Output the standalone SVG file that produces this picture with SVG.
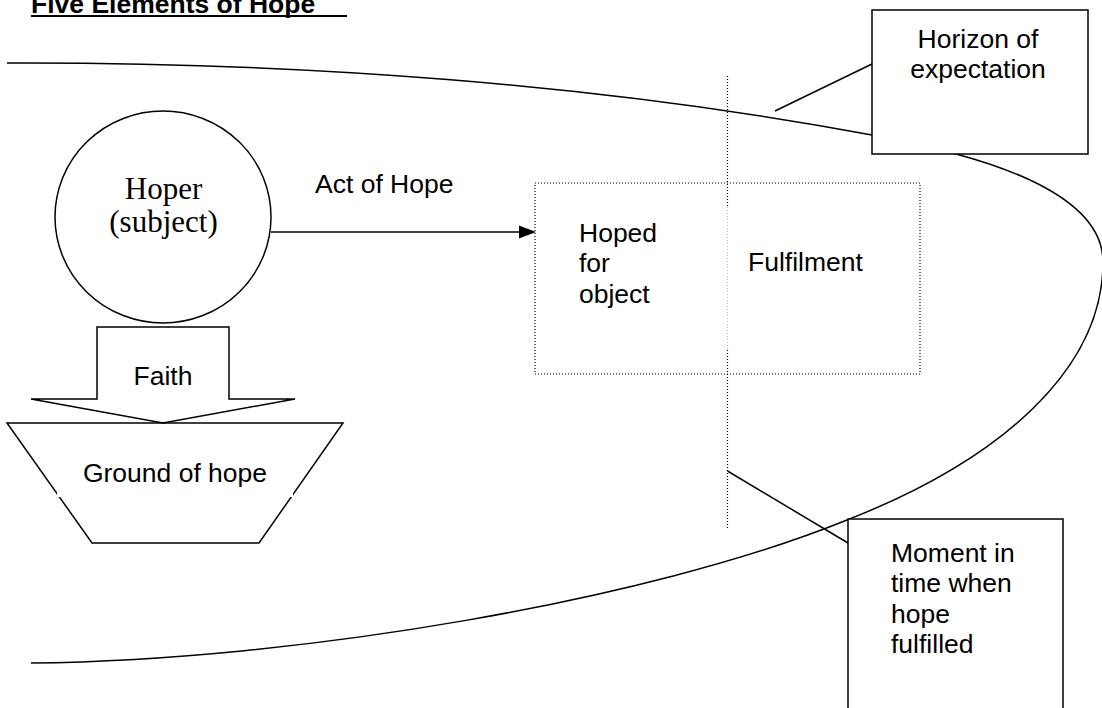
<svg xmlns="http://www.w3.org/2000/svg" width="1102" height="708" viewBox="0 0 1102 708">
<defs>
<style>
.s{fill:none;stroke:#000;stroke-width:1.5}
.box{fill:#fff;stroke:#000;stroke-width:1.5}
.dot{fill:none;stroke:#000;stroke-width:1.2;stroke-dasharray:1 2}
.t{font-family:"Liberation Sans",Arial,sans-serif;font-size:26.5px;fill:#000}
.tr{font-family:"Liberation Serif","Times New Roman",serif;font-size:31px;fill:#000}
</style>
</defs>
<rect width="1102" height="708" fill="#fff"/>
<g id="title">
<text x="31" y="12.5" class="t" style="font-weight:bold">Five Elements of Hope</text>
<rect x="31" y="15" width="316" height="2" fill="#000"/>
</g>
<g id="horizon-curve">
<path class="s" d="M7,63 C300,62 600,84 872,135 C960,151.5 1103,185 1103,262 C1103,370 1000,460 847,520 C650,600 300,660 31,663"/>
</g>
<g id="time-line">
<line class="dot" x1="727.5" y1="76" x2="727.5" y2="207"/>
<line x1="727.5" y1="207" x2="727.5" y2="350" stroke="#bbb" stroke-width="1" stroke-dasharray="1 2"/>
<line class="dot" x1="727.5" y1="350" x2="727.5" y2="530"/>
</g>
<g id="connectors">
<line class="s" x1="271" y1="232" x2="521" y2="232"/>
<polygon points="536,232 519,225.5 519,238.5" fill="#000"/>
<line class="s" x1="775" y1="111" x2="872" y2="64"/>
<line class="s" x1="727.5" y1="471" x2="848" y2="543"/>
</g>
<g id="hoper">
<ellipse class="s" cx="163" cy="217" rx="108" ry="106"/>
<text x="163.5" y="198.5" class="tr" text-anchor="middle">Hoper</text>
<text x="163.5" y="232" class="tr" text-anchor="middle">(subject)</text>
</g>
<g id="act-label">
<text x="315" y="193" class="t">Act of Hope</text>
</g>
<g id="faith">
<polygon class="s" points="97,327 229,327 229,399 295,399 163,423 31,399 97,399"/>
<text x="163" y="385" class="t" text-anchor="middle">Faith</text>
</g>
<g id="ground">
<polygon class="s" points="7,423 343,423 259,543 92,543"/>
<rect x="57" y="430" width="236" height="67" fill="#fff"/>
<text x="175" y="481.5" class="t" text-anchor="middle">Ground of hope</text>
</g>
<g id="object">
<rect class="dot" x="535" y="183" width="385" height="191"/>
<text class="t"><tspan x="579" y="241.5">Hoped</tspan><tspan x="579" y="272">for</tspan><tspan x="579" y="302.5">object</tspan></text>
<text x="748" y="271" class="t">Fulfilment</text>
</g>
<g id="horizon-box">
<rect class="box" x="872" y="10" width="216" height="144"/>
<text class="t" text-anchor="middle"><tspan x="978" y="47.5">Horizon of</tspan><tspan x="978" y="78">expectation</tspan></text>
</g>
<g id="moment-box">
<rect class="box" x="848" y="519" width="215" height="200"/>
<text class="t"><tspan x="891" y="561.5">Moment in</tspan><tspan x="891" y="592">time when</tspan><tspan x="891" y="622.5">hope</tspan><tspan x="891" y="653">fulfilled</tspan></text>
</g>
</svg>
